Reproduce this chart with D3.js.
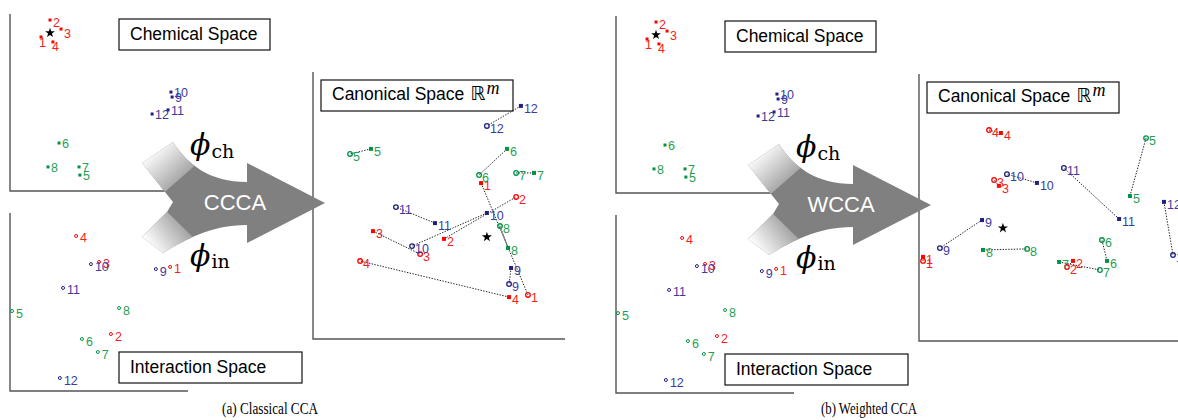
<!DOCTYPE html>
<html>
<head>
<meta charset="utf-8">
<script src="https://cdn.jsdelivr.net/npm/d3@7"></script>
<style>
  body { margin: 0; background: #fff; }
  svg { display: block; }
</style>
</head>
<body>
<svg id="fig" width="1178" height="420"></svg>
<script>
// Twelve samples in three classes (red 1–4, green 5–8, blue 9–12)
const sampleIds   = ["1","2","3","4","5","6","7","8","9","10","11","12"];
const sampleClass = ["r","r","r","r","g","g","g","g","b","b","b","b"];

// Chemical space coordinates (0–100 units)
const chemX = [10.7, 13.8, 17.6, 14.8, 24.1, 16.9, 23.8, 13.1, 55.9, 55.5, 54.5, 49.0];
const chemY = [87.0, 96.6, 91.5, 84.2,  9.0, 27.1, 13.6, 13.6, 53.1, 55.9, 45.8, 43.5];
const chemQuery = [13.8, 89.3];

// Interaction space coordinates
const interX = [55.2, 34.8, 30.7, 22.8,  0.7, 24.8, 30.3, 37.6, 50.3, 27.9, 18.3, 17.2];
const interY = [69.7, 32.0, 72.5, 87.1, 44.9, 29.2, 21.9, 46.6, 68.5, 71.3, 57.9,  7.3];

// Classical CCA: projections of both views into the canonical space
const ccaChemX  = [66.7, 52.0, 23.8, 77.8, 23.0, 77.0, 87.7, 77.4, 78.6, 69.0, 48.4, 82.5];
const ccaChemY  = [58.4, 37.5, 40.4, 15.7, 71.2, 71.2, 62.2, 34.1, 26.6, 47.2, 43.4, 87.3];
const ccaInterX = [85.3, 80.6, 42.5, 18.7, 14.7, 65.9, 80.6, 74.2, 77.8, 39.3, 32.9, 69.0];
const ccaInterY = [16.5, 53.2, 31.8, 29.2, 69.3, 61.4, 62.2, 42.3, 20.6, 34.8, 49.4, 79.8];
const ccaQuery  = [69.0, 38.2];

// Weighted CCA projections
const wccaChemX  = [ 1.6, 61.1, 31.7, 32.5, 83.7, 74.6, 55.6, 25.4, 25.0, 46.8, 79.4,  97.2];
const wccaChemY  = [31.5, 30.0, 58.1, 77.9, 54.3, 30.0, 29.6, 34.1, 45.3, 59.2, 45.7,  52.1];
const wccaInterX = [ 1.6, 58.7, 29.8, 27.8, 90.1, 72.6, 71.8, 42.9,  8.3, 34.9, 57.5, 100.8];
const wccaInterY = [30.0, 27.7, 60.3, 79.0, 76.0, 37.8, 26.6, 34.5, 34.8, 62.5, 64.8,  32.2];
const wccaQuery  = [33.3, 42.3];

// Panel titles
const spaceTitles = { chem: "Chemical Space", inter: "Interaction Space", canon: "Canonical Space" };
const methodNames = ["CCCA", "WCCA"];
const captions    = ["(a) Classical CCA", "(b) Weighted CCA"];

// ---------------------------------------------------------------------------
const colours = {
  r: { mark: "#ff0000", text: "#f21d1d" },
  g: { mark: "#00924a", text: "#1f9f55" },
  b: { mark: "#202080", text: "#3b3b9b" }
};
const sansFont  = "'Liberation Sans', Arial, Helvetica, sans-serif";
const serifFont = "'Liberation Serif', 'Times New Roman', serif";

// plotting frames inside a panel (local px)
const frames = {
  chem:  { x0: 10,  y0: 191, w: 290, h: 177, axisLen: 158 },
  inter: { x0: 10,  y0: 391, w: 290, h: 178, axisLen: 178 },
  canon: { x0: 313, y0: 339, w: 252, h: 267 }
};

function scalesFor(f) {
  return {
    x: d3.scaleLinear().domain([0, 100]).range([f.x0, f.x0 + f.w]),
    y: d3.scaleLinear().domain([0, 100]).range([f.y0, f.y0 - f.h])
  };
}

const svg = d3.select("#fig");
const defs = svg.append("defs");

// Arrow outline: two curved inputs merging into one arrow
function arrowOutline() {
  const p = d3.path();
  p.moveTo(173, 142);
  p.bezierCurveTo(188, 165, 210, 182, 247, 182);
  p.lineTo(247, 163);
  p.lineTo(325, 203);
  p.lineTo(247, 243);
  p.lineTo(247, 225);
  p.bezierCurveTo(210, 225, 185, 240, 163, 253);
  p.lineTo(142, 237);
  p.lineTo(167, 212);
  p.lineTo(173, 202);
  p.lineTo(165, 192);
  p.lineTo(142, 163);
  p.closePath();
  return p.toString();
}
defs.append("clipPath").attr("id", "arrowClip")
  .append("path").attr("d", arrowOutline());

function fadeGradient(id, x1, y1, x2, y2) {
  const gr = defs.append("linearGradient").attr("id", id)
    .attr("gradientUnits", "userSpaceOnUse")
    .attr("x1", x1).attr("y1", y1).attr("x2", x2).attr("y2", y2);
  gr.append("stop").attr("offset", 0).attr("stop-color", "#ffffff");
  gr.append("stop").attr("offset", 1).attr("stop-color", "#a3a3a3");
}
fadeGradient("fadeTop", 152, 150, 181, 181);
fadeGradient("fadeBottom", 150, 247, 182, 223);

function drawArrow(g, name) {
  const a = g.append("g");
  a.append("path").attr("d", arrowOutline()).attr("fill", "#808080");
  const c = a.append("g").attr("clip-path", "url(#arrowClip)");
  c.append("polygon").attr("points", "199,162 159,197 125,160 168,112")
    .attr("fill", "url(#fadeTop)");
  c.append("polygon").attr("points", "161,206 200,244 160,282 112,240")
    .attr("fill", "url(#fadeBottom)");
  a.append("text").attr("x", 235).attr("y", 210)
    .attr("text-anchor", "middle").attr("fill", "#fff")
    .attr("font-family", sansFont).attr("font-size", 22)
    .text(name);
}

function drawPhi(g, x, y, sub, subDy) {
  const t = g.append("text").attr("x", x).attr("y", y);
  t.append("tspan").attr("font-family", "'DejaVu Serif', serif")
    .attr("font-style", "italic").attr("font-size", 30).text("\u03D5");
  t.append("tspan").attr("font-family", "'DejaVu Serif', serif")
    .attr("font-size", 19).attr("dx", 1).attr("dy", subDy).text(sub);
}

function drawAxis(g, f, len) {
  g.append("path")
    .attr("d", `M${f.x0},${f.y0 - f.h}V${f.y0}H${f.x0 + len}`)
    .attr("fill", "none").attr("stroke", "#555").attr("stroke-width", 1.4);
}

function drawBox(g, x, y, w, h) {
  return g.append("rect").attr("x", x).attr("y", y).attr("width", w).attr("height", h)
    .attr("fill", "#fff").attr("stroke", "#111").attr("stroke-width", 1.2);
}

function boxText(g, x, y, str) {
  return g.append("text").attr("x", x).attr("y", y)
    .attr("font-family", sansFont).attr("font-size", 17.5).attr("fill", "#000").text(str);
}

function star(g, x, y, size) {
  g.append("path").attr("d", d3.symbol(d3.symbolStar, size)())
    .attr("transform", `translate(${x},${y})`).attr("fill", "#000");
}

// label offset tweaks for the crowded red group in chemical space
const chemLabelNudge = {
  "1": { dx: 1.5, dy: 10, anchor: "middle" },
  "4": { dx: 2.5, dy: 9,  anchor: "middle" },
  "3": { dx: 3,   dy: 9 },
  "2": { dx: 3,   dy: 7 }
};

function labels(g, xs, ys, sx, sy, dx, dy, nudge) {
  g.selectAll(null).data(sampleIds).join("text")
    .attr("x", (d, i) => sx(xs[i]) + ((nudge && nudge[d]) ? nudge[d].dx : dx))
    .attr("y", (d, i) => sy(ys[i]) + ((nudge && nudge[d]) ? nudge[d].dy : dy))
    .attr("text-anchor", d => (nudge && nudge[d] && nudge[d].anchor) || "start")
    .attr("font-family", sansFont).attr("font-size", 12.5)
    .attr("fill", (d, i) => colours[sampleClass[i]].text)
    .text(d => d);
}

function squares(g, xs, ys, sx, sy, side) {
  g.selectAll(null).data(sampleIds).join("rect")
    .attr("x", (d, i) => sx(xs[i]) - side / 2)
    .attr("y", (d, i) => sy(ys[i]) - side / 2)
    .attr("width", side).attr("height", side)
    .attr("fill", (d, i) => colours[sampleClass[i]].mark);
}

function rings(g, xs, ys, sx, sy, r, sw) {
  g.selectAll(null).data(sampleIds).join("circle")
    .attr("cx", (d, i) => sx(xs[i])).attr("cy", (d, i) => sy(ys[i]))
    .attr("r", r).attr("fill", "none").attr("stroke-width", sw)
    .attr("stroke", (d, i) => colours[sampleClass[i]].mark);
}

function drawPanel(idx, offset, proj, canonLen, captionX) {
  const g = svg.append("g").attr("transform", `translate(${offset[0]},${offset[1]})`);

  // chemical space
  const cs = scalesFor(frames.chem);
  drawAxis(g, frames.chem, frames.chem.axisLen);
  drawBox(g, 119, 19, 151, 31);
  boxText(g, 130, 40, spaceTitles.chem);
  squares(g, chemX, chemY, cs.x, cs.y, 3);
  star(g, cs.x(chemQuery[0]), cs.y(chemQuery[1]), 30);
  labels(g, chemX, chemY, cs.x, cs.y, 3, 5, chemLabelNudge);

  // interaction space
  const is = scalesFor(frames.inter);
  drawAxis(g, frames.inter, frames.inter.axisLen);
  rings(g, interX, interY, is.x, is.y, 1.5, 1);
  labels(g, interX, interY, is.x, is.y, 4, 6.5, null);
  drawBox(g, 119, 352, 183, 31);
  boxText(g, 130, 373, spaceTitles.inter);

  // canonical space
  const ks = scalesFor(frames.canon);
  drawAxis(g, frames.canon, canonLen);
  drawBox(g, 321, 80, 192, 31);
  const ct = boxText(g, 332, 100, spaceTitles.canon);
  ct.append("tspan").attr("dx", 6).attr("font-family", "'DejaVu Sans', sans-serif")
    .attr("font-size", 19).text("\u211D");
  ct.append("tspan").attr("dx", 1).attr("dy", -6).attr("font-family", serifFont)
    .attr("font-style", "italic").attr("font-size", 18).text("m");

  // dotted links between the two projections of each sample
  g.selectAll(null).data(sampleIds).join("line")
    .attr("x1", (d, i) => ks.x(proj.chemX[i])).attr("y1", (d, i) => ks.y(proj.chemY[i]))
    .attr("x2", (d, i) => ks.x(proj.interX[i])).attr("y2", (d, i) => ks.y(proj.interY[i]))
    .attr("stroke", "#222").attr("stroke-width", 1).attr("stroke-dasharray", "1.4 1.4");
  squares(g, proj.chemX, proj.chemY, ks.x, ks.y, 4);
  rings(g, proj.interX, proj.interY, ks.x, ks.y, 2.3, 1.3);
  star(g, ks.x(proj.query[0]), ks.y(proj.query[1]), 32);
  labels(g, proj.chemX, proj.chemY, ks.x, ks.y, 3, 7, null);
  labels(g, proj.interX, proj.interY, ks.x, ks.y, 3, 7, null);

  // mapping arrow
  drawArrow(g, methodNames[idx]);
  drawPhi(g, 190, 155, "ch", 3);
  drawPhi(g, 190, 266, "in", 2);

  // caption
  svg.append("text").attr("x", captionX).attr("y", 414)
    .attr("text-anchor", "middle").attr("font-family", serifFont)
    .attr("font-size", 17).attr("textLength", 96).attr("lengthAdjust", "spacingAndGlyphs")
    .attr("fill", "#000").text(captions[idx]);
}

drawPanel(0, [0, 0],
  { chemX: ccaChemX, chemY: ccaChemY, interX: ccaInterX, interY: ccaInterY, query: ccaQuery },
  252, 270);
drawPanel(1, [606, 2],
  { chemX: wccaChemX, chemY: wccaChemY, interX: wccaInterX, interY: wccaInterY, query: wccaQuery },
  290, 869);
</script>
</body>
</html>
